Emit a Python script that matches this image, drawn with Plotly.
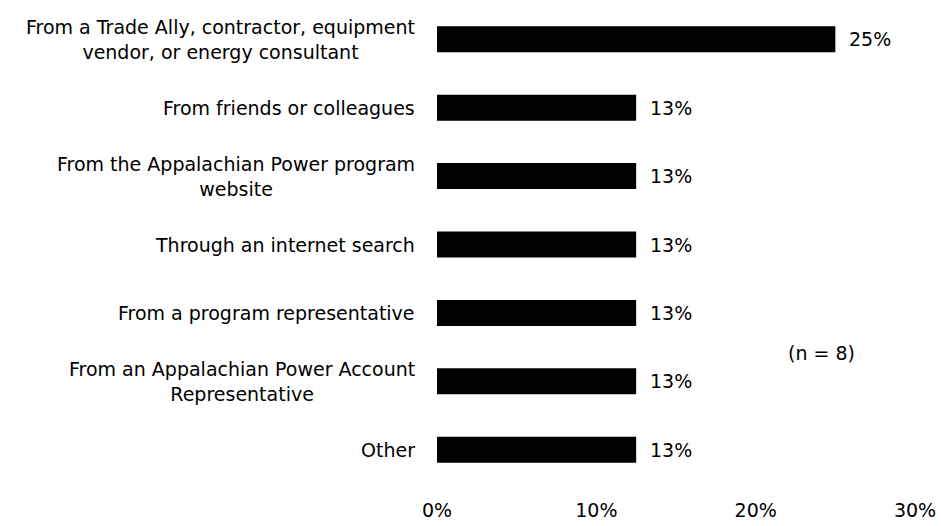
import math
import plotly.graph_objects as go

# Survey responses: how participants heard about the program (n = 8)
categories = [
    "From a Trade Ally, contractor, equipment<br>vendor, or energy consultant",
    "From friends or colleagues",
    "From the Appalachian Power program<br>website",
    "Through an internet search",
    "From a program representative",
    "From an Appalachian Power Account<br>Representative",
    "Other",
]
shares = [25.0, 12.5, 12.5, 12.5, 12.5, 12.5, 12.5]
x_ticks = [0, 10, 20, 30]
x_tick_labels = ["0%", "10%", "20%", "30%"]
sample_note = "(n = 8)"

FONT = "DejaVu Sans"
FSIZE = 19


def pct_label(v):
    # round half up, as the percentages are reported
    return f"{math.floor(v + 0.5):d}%"


fig = go.Figure(
    go.Bar(
        x=shares,
        y=categories,
        orientation="h",
        marker=dict(color="black", line=dict(width=0)),
        hoverinfo="skip",
    )
)

# Category labels, centred per line, placed to the left of the plot area
for cat in categories:
    fig.add_annotation(
        x=0, xref="paper", y=cat, yref="y",
        text=cat, showarrow=False,
        xanchor="right", yanchor="middle", align="center",
        xshift=-20,
        font=dict(family=FONT, size=FSIZE, color="black"),
    )

# Value labels to the right of each bar
for cat, v in zip(categories, shares):
    fig.add_annotation(
        x=v, xref="x", y=cat, yref="y",
        text=pct_label(v),
        showarrow=False, xanchor="left", yanchor="middle",
        xshift=12,
        font=dict(family=FONT, size=FSIZE, color="black"),
    )

fig.add_annotation(
    x=0.805, xref="paper", y=0.273, yref="paper",
    text=sample_note, showarrow=False,
    xanchor="center", yanchor="middle",
    font=dict(family=FONT, size=FSIZE, color="black"),
)

fig.update_layout(
    width=941, height=526,
    margin=dict(l=437, r=23, t=5, b=41),
    paper_bgcolor="white", plot_bgcolor="white",
    bargap=0.62,
    showlegend=False,
    font=dict(family=FONT, size=FSIZE, color="black"),
    xaxis=dict(
        range=[0, 30],
        tickvals=x_ticks, ticktext=x_tick_labels,
        showgrid=False, zeroline=False, showline=False,
        ticks="outside", ticklen=9, tickcolor="rgba(0,0,0,0)",
        tickfont=dict(family=FONT, size=FSIZE, color="black"),
        fixedrange=True,
    ),
    yaxis=dict(
        autorange="reversed",
        showticklabels=False,
        showgrid=False, zeroline=False, showline=False,
        fixedrange=True,
    ),
)

fig.write_html("out.html")
